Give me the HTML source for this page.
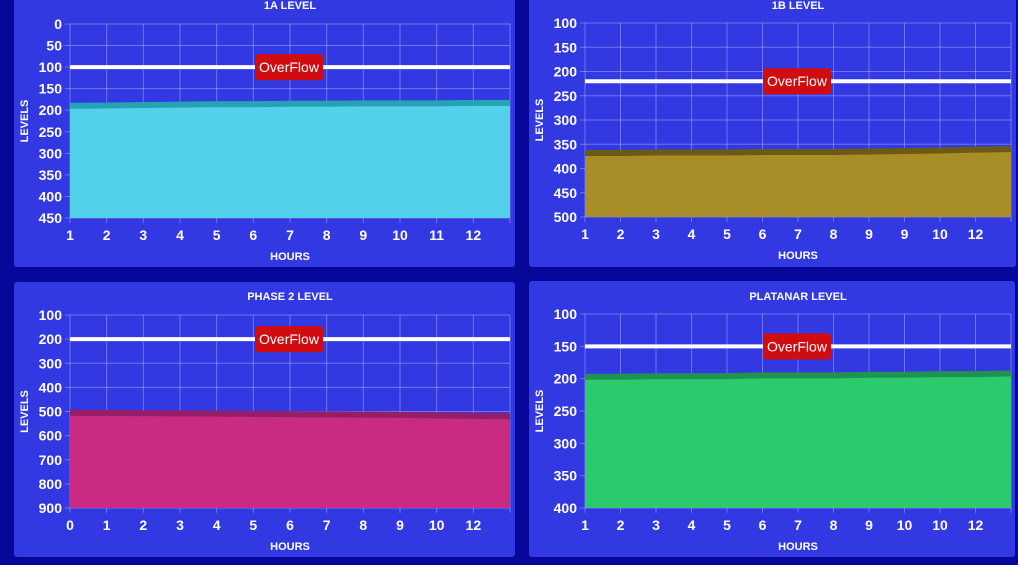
<!DOCTYPE html>
<html><head><meta charset="utf-8">
<style>
body{margin:0;width:1018px;height:565px;background:#07079a;overflow:hidden;font-family:"Liberation Sans",sans-serif}
svg{position:absolute;left:0;top:0}
</style></head><body>
<svg id="s" width="1018" height="565"></svg>
<script>
const labels1A=["1","2","3","4","5","6","7","8","9","10","11","12",""];
const values1A=[190,189,188,187,186,186,185,185,184,184,184,183,183];
const ticks1A=[0,50,100,150,200,250,300,350,400,450];
const labels1B=["1","2","3","4","5","6","7","8","9","9","10","12",""];
const values1B=[368,368,367,367,367,366,366,366,365,364,363,361,360];
const ticks1B=[100,150,200,250,300,350,400,450,500];
const labelsP2=["0","1","2","3","4","5","6","7","8","9","10","12",""];
const valuesP2=[505,506,507,508,509,510,511,512,513,514,516,518,520];
const ticksP2=[100,200,300,400,500,600,700,800,900];
const labelsPL=["1","2","3","4","5","6","7","8","9","10","10","12",""];
const valuesPL=[197,197,196,196,196,195,195,195,194,194,193,193,192];
const ticksPL=[100,150,200,250,300,350,400];
const overflow=[100,220,200,150];

const NS="http://www.w3.org/2000/svg";
const svg=document.getElementById('s');
function mk(tag,attrs,parent){const e=document.createElementNS(NS,tag);for(const k in attrs)e.setAttribute(k,attrs[k]);(parent||svg).appendChild(e);return e;}

function chart(cfg){
  const g=mk('g',{});
  
  
  const p=mk('rect',{x:cfg.px,y:cfg.py,width:cfg.pw,height:cfg.ph,rx:3,fill:'#3239e2'},g);
  
  
  const t=mk('text',{x:(cfg.x0+cfg.x1)/2,y:cfg.ty,'text-anchor':'middle','font-size':11,'font-weight':'bold',fill:'#fff'},g);
  t.textContent=cfg.title;
  
  
  const ymin=cfg.ticks[0],ymax=cfg.ticks[cfg.ticks.length-1];
  const yS=v=>cfg.y0+(v-ymin)/(ymax-ymin)*(cfg.y1-cfg.y0);
  const n=cfg.values.length;
  const xS=i=>cfg.x0+i*(cfg.x1-cfg.x0)/(n-1);
  // grid
  cfg.ticks.forEach(v=>{
    const l=mk('line',{x1:cfg.x0-5,x2:cfg.x1,y1:yS(v),y2:yS(v),stroke:'rgba(255,255,255,0.3)','stroke-width':1},g);
    
    
    const tx=mk('text',{x:cfg.x0-8,y:yS(v)+5,'text-anchor':'end','font-size':14,'font-weight':'bold',fill:'#fff'},g);
    tx.textContent=v;
    
    
  });
  cfg.labels.forEach((lb,i)=>{
    const l=mk('line',{x1:xS(i),x2:xS(i),y1:cfg.y0,y2:cfg.y1+5,stroke:'rgba(255,255,255,0.3)','stroke-width':1},g);
    
    
    const tx=mk('text',{x:xS(i),y:cfg.y1+22,'text-anchor':'middle','font-size':14,'font-weight':'bold',fill:'#fff'},g);
    tx.textContent=lb;
    
    
  });
  // area
  let d='M'+xS(0)+','+cfg.y1;
  cfg.values.forEach((v,i)=>{d+=' L'+xS(i)+','+yS(v);});
  d+=' L'+xS(n-1)+','+cfg.y1+' Z';
  const a=mk('path',{d:d,fill:cfg.fill},g);
  
  
  let ld='';
  cfg.values.forEach((v,i)=>{ld+=(i?' L':'M')+xS(i)+','+yS(v);});
  const ln=mk('path',{d:ld,fill:'none',stroke:cfg.line,'stroke-width':6},g);
  
  
  // overflow
  const oy=yS(cfg.over);
  const ol=mk('line',{x1:cfg.x0,x2:cfg.x1,y1:oy,y2:oy,stroke:'#fff','stroke-width':4},g);
  
  
  const cx=(cfg.x0+cfg.x1)/2;
  const ob=mk('rect',{x:cx-35,y:oy-13,width:68,height:26,rx:3,fill:'#d00c10'},g);
  
  
  const ot=mk('text',{x:cx-1,y:oy+5,'text-anchor':'middle','font-size':14,fill:'#fff'},g);
  ot.textContent='OverFlow';
  
  
  const yt=mk('text',{transform:'translate('+(cfg.px+14)+','+((cfg.y0+cfg.y1)/2)+') rotate(-90)','text-anchor':'middle','font-size':11,'font-weight':'bold',fill:'#fff'},g);
  yt.textContent='LEVELS';
  
  
  const xt=mk('text',{x:cx,y:cfg.y1+42,'text-anchor':'middle','font-size':11,'font-weight':'bold',fill:'#fff'},g);
  xt.textContent='HOURS';
  
  
}
chart({name:'chart-1a-level',title:'1A LEVEL',px:14,py:-6,pw:501,ph:273,ty:9,x0:70,x1:510,y0:24,y1:218,ticks:ticks1A,values:values1A,labels:labels1A,over:overflow[0],fill:'#53d1ea',line:'#25a2b3'});
chart({name:'chart-1b-level',title:'1B LEVEL',px:529,py:-6,pw:487,ph:273,ty:9,x0:585,x1:1011,y0:23,y1:217,ticks:ticks1B,values:values1B,labels:labels1B,over:overflow[1],fill:'#a98d27',line:'#6b5a16'});
chart({name:'chart-phase2-level',title:'PHASE 2 LEVEL',px:14,py:282,pw:501,ph:275,ty:300,x0:70,x1:510,y0:315,y1:508,ticks:ticksP2,values:valuesP2,labels:labelsP2,over:overflow[2],fill:'#c92a82',line:'#961d68'});
chart({name:'chart-platanar-level',title:'PLATANAR LEVEL',px:529,py:281,pw:486,ph:276,ty:300,x0:585,x1:1011,y0:314,y1:508,ticks:ticksPL,values:valuesPL,labels:labelsPL,over:overflow[3],fill:'#2bcb6d',line:'#1e9450'});
</script>
</body></html>
